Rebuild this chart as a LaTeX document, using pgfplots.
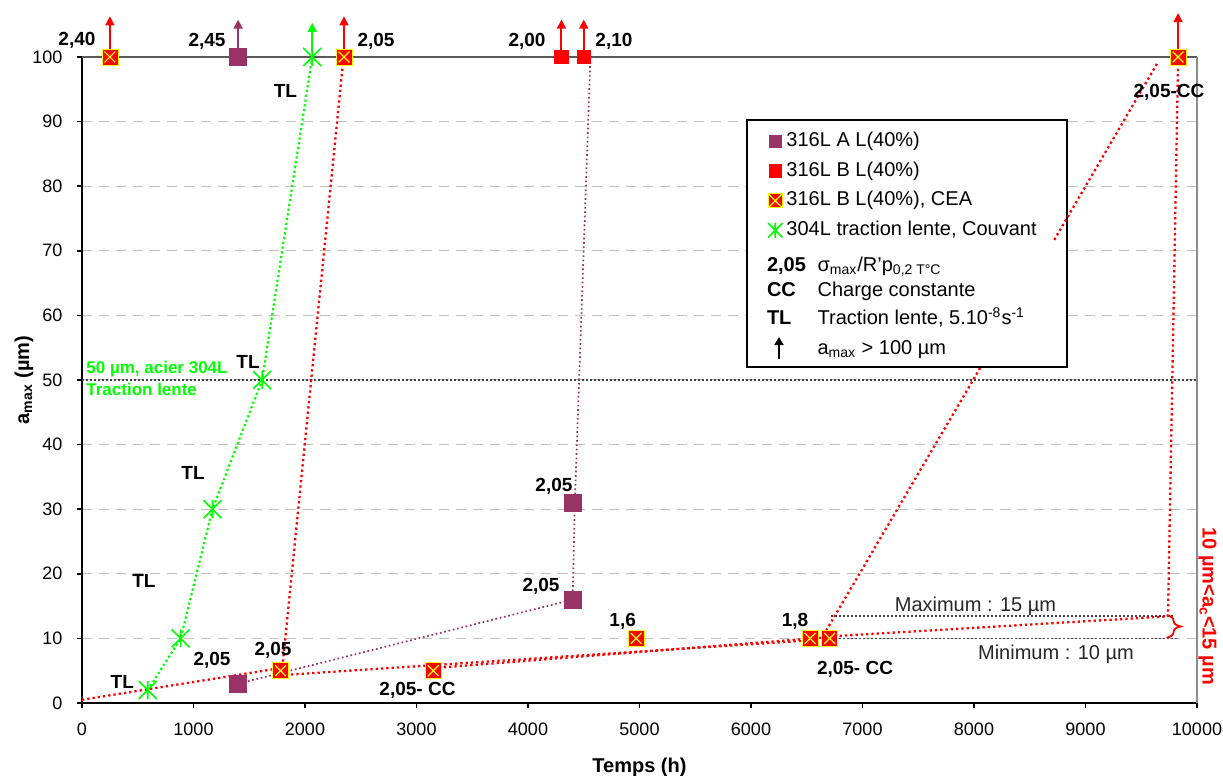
\documentclass[border=0pt]{standalone}
\usepackage{pgfplots}
\pgfplotsset{compat=1.18}
\usepackage{pgfplotstable}
\usepackage{fontspec}
\setmainfont{Liberation Sans}
\usetikzlibrary{arrows.meta,decorations.pathreplacing}
\definecolor{plum}{HTML}{993366}
\definecolor{lgreen}{HTML}{00FF00}
\definecolor{gridgray}{HTML}{C0C0C0}
\definecolor{xyellow}{HTML}{FFFF00}

\pgfdeclareplotmark{xstar}{%
 \pgfpathmoveto{\pgfqpoint{-\pgfplotmarksize}{-\pgfplotmarksize}}%
 \pgfpathlineto{\pgfqpoint{\pgfplotmarksize}{\pgfplotmarksize}}%
 \pgfpathmoveto{\pgfqpoint{-\pgfplotmarksize}{\pgfplotmarksize}}%
 \pgfpathlineto{\pgfqpoint{\pgfplotmarksize}{-\pgfplotmarksize}}%
 \pgfpathmoveto{\pgfqpoint{0pt}{-\pgfplotmarksize}}%
 \pgfpathlineto{\pgfqpoint{0pt}{\pgfplotmarksize}}%
 \pgfusepathqstroke}

% 316L A L(40%)
\pgfplotstableread{
x y
1400 100
1400 3
4400 16
4400 31
}\tabA
% 316L B L(40%)
\pgfplotstableread{
x y
4300 100
4500 100
}\tabB
% 316L B L(40%), CEA
\pgfplotstableread{
x y
250 100
2350 100
1780 5
3150 5
4970 10
6530 10
6705 10
9830 100
}\tabC
% 304L traction lente, Couvant
\pgfplotstableread{
x y
590 2
885 10
1170 30
1615 50
2065 100
}\tabD

\tikzset{
 redline/.style={red, line width=1.15pt, dash pattern=on 1.15pt off 1.5pt},
 lab/.style={font=\fontsize{9.5}{11}\selectfont\bfseries, inner sep=0pt},
}

\begin{document}
\begin{tikzpicture}
\begin{axis}[
 scale only axis, width=557.5pt, height=323pt,
 xmin=0, xmax=10000, ymin=0, ymax=100,
 axis x line*=bottom, axis y line*=left,
 axis line style={-, line width=0.9pt, black},
 xtick={0,1000,...,10000}, ytick={0,10,...,100},
 scaled x ticks=false, scaled y ticks=false,
 tick align=outside, major tick length=2.6pt,
 tick style={black, line width=0.8pt},
 ymajorgrids, grid style={gridgray, line width=0.5pt, dash pattern=on 5pt off 3.5pt},
 clip=false,
 tick label style={font=\fontsize{9}{10.5}\selectfont},
 xticklabel style={yshift=-3.7pt},
 yticklabel style={xshift=-3.7pt},
 /pgf/number format/assume math mode=true,
 /pgf/number format/set thousands separator={},
 xticklabel={\pgfmathprintnumber[fixed,precision=0,set thousands separator={}]{\tick}},
 xlabel={Temps (h)}, ylabel={a\textsubscript{max} (µm)},
 label style={font=\fontsize{10}{12}\selectfont\bfseries},
 xlabel style={at={(axis description cs:0.5,-0.1)}, anchor=center},
 ylabel style={at={(axis description cs:-0.052,0.5)}, anchor=center},
 legend style={at={(axis cs:6146,88.7)}, anchor=north west, draw=none, fill=none,
   inner sep=0pt, outer sep=0pt, row sep=3.3pt, column sep=0.6pt,
   font=\fontsize{10}{12}\selectfont,
   nodes={inner sep=1pt, text height=7.3pt, text depth=2.2pt}},
 legend cell align=left,
]
% frame top / right
\draw[black!65, line width=0.9pt] (rel axis cs:0,1) -- (rel axis cs:1,1);
\draw[black!45, line width=0.6pt] (rel axis cs:1,1) -- (rel axis cs:1,0);

% reference lines
\addplot[forget plot, color=black!75, line width=0.9pt, dash pattern=on 0.9pt off 1.1pt] coordinates {(0,50) (10000,50)};
\addplot[forget plot, color=black!75, line width=0.75pt, dash pattern=on 0.75pt off 1.25pt] coordinates {(6720,13.5) (9800,13.5)};
\addplot[forget plot, color=black!75, line width=0.75pt, dash pattern=on 0.75pt off 1.25pt] coordinates {(6720,10) (9830,10)};

% trend lines
\addplot[forget plot, lgreen, line width=1.1pt, dash pattern=on 1.1pt off 1.3pt] table {\tabD};
\addplot[forget plot, plum, line width=0.85pt, dash pattern=on 0.85pt off 1.35pt] coordinates {(1450,3.2) (4400,16) (4420,31) (4560,100)};
\addplot[forget plot, redline] coordinates {(0,0.5) (1780,5.4)};
\addplot[forget plot, redline] coordinates {(2340,99) (1800,6)};
\addplot[forget plot, redline] coordinates {(1780,4.3) (6530,9.7)};
\addplot[forget plot, redline] coordinates {(3150,5.4) (6700,10.2)};
\addplot[forget plot, redline] coordinates {(6700,10.3) (9728,13.4)};
\addplot[forget plot, redline] coordinates {(6650,10.5) (8060,52)};
\addplot[forget plot, redline] coordinates {(9830,99) (9740,13.6)};

% legend box
\filldraw[fill=white, draw=black, line width=1pt] (axis cs:5964,52) rectangle (axis cs:8834,90.25);
\addplot[forget plot, redline] coordinates {(8720,71.7) (9650,99.2)};

% bracket
\draw[red, line width=0.9pt, decorate, decoration={brace, amplitude=7pt}] (axis cs:9727,13.6) -- (axis cs:9727,10.1);

% markers
\addplot[forget plot, only marks, mark=square*, mark size=4.2pt, color=plum] table {\tabA};
\addplot[forget plot, only marks, mark=square*, mark size=3.4pt, color=red] table {\tabB};
\addplot[forget plot, only marks, mark=square*, mark size=4pt, mark options={fill=red, draw=xyellow, line width=0.3pt}] table {\tabC};
\addplot[forget plot, only marks, mark=x, mark size=3.8pt, mark options={draw=xyellow, line width=0.6pt}] table {\tabC};
\addplot[forget plot, only marks, mark=xstar, mark size=4.5pt, mark options={draw=lgreen, line width=0.8pt}] table {\tabD};

% arrows (a_max > 100 um)
\addplot[forget plot, red, line width=1pt, -{Triangle[length=4.5pt,width=4.4pt]}] coordinates {(250,101.3) (250,106.3)};
\addplot[forget plot, plum, line width=1pt, -{Triangle[length=4.5pt,width=4.4pt]}] coordinates {(1400,101.3) (1400,105.8)};
\addplot[forget plot, lgreen, line width=1pt, -{Triangle[length=4.5pt,width=4.4pt]}] coordinates {(2065,100.8) (2065,105.3)};
\addplot[forget plot, red, line width=1pt, -{Triangle[length=4.5pt,width=4.4pt]}] coordinates {(2350,101.3) (2350,106.3)};
\addplot[forget plot, red, line width=1pt, -{Triangle[length=4.5pt,width=4.4pt]}] coordinates {(4300,101.1) (4300,105.8)};
\addplot[forget plot, red, line width=1pt, -{Triangle[length=4.5pt,width=4.4pt]}] coordinates {(4500,101.1) (4500,105.8)};
\addplot[forget plot, red, line width=1pt, -{Triangle[length=4.5pt,width=4.4pt]}] coordinates {(9830,101.3) (9830,106.8)};

% point labels
\node[lab] at (axis cs:-45,102.6) {2,40};
\node[lab] at (axis cs:1121,102.5) {2,45};
\node[lab] at (axis cs:2637,102.5) {2,05};
\node[lab] at (axis cs:3991,102.5) {2,00};
\node[lab] at (axis cs:4771,102.5) {2,10};
\node[lab] at (axis cs:9749,94.5) {2,05-CC};
\node[lab] at (axis cs:1825,94.7) {TL};
\node[lab] at (axis cs:1489,52.8) {TL};
\node[lab] at (axis cs:996,35.6) {TL};
\node[lab] at (axis cs:556,18.9) {TL};
\node[lab] at (axis cs:361,3.3) {TL};
\node[lab] at (axis cs:4233,33.6) {2,05};
\node[lab] at (axis cs:4117,18.0) {2,05};
\node[lab] at (axis cs:1166,6.65) {2,05};
\node[lab] at (axis cs:1713,8.2) {2,05};
\node[lab] at (axis cs:3009,1.9) {2,05- CC};
\node[lab] at (axis cs:4849,12.6) {1,6};
\node[lab] at (axis cs:6395,12.7) {1,8};
\node[lab] at (axis cs:6933,5.25) {2,05- CC};
\node[font=\fontsize{10}{12}\selectfont, black!85, inner sep=0pt] at (axis cs:8013,14.9) {Maximum : 15 µm};
\node[font=\fontsize{10}{12}\selectfont, black!85, inner sep=0pt] at (axis cs:8735,7.6) {Minimum : 10 µm};
\node[lgreen, font=\fontsize{8.5}{10}\selectfont\bfseries, inner sep=0pt, anchor=west] at (axis cs:36,51.7) {50 µm, acier 304L};
\node[lgreen, font=\fontsize{8.5}{10}\selectfont\bfseries, inner sep=0pt, anchor=west] at (axis cs:36,48.6) {Traction lente};
\node[rotate=-90, red, font=\fontsize{10}{12}\selectfont\bfseries, inner sep=0pt] at (axis cs:10094,15.0) {10 µm<a\textsubscript{c}<15 µm};

% legend, lower rows
\node[anchor=base west, inner sep=0pt, font=\fontsize{10}{12.5}\selectfont] at (axis cs:6140,66.8)
 {\begin{tabular}[t]{@{}p{25.3pt}@{}l@{}}
 \textbf{2,05} & σ\textsubscript{max}/R’p\textsubscript{0,2 T°C}\\[0pt]
 \textbf{CC} & Charge constante\\[1.7pt]
 \textbf{TL} & Traction lente, 5.10\textsuperscript{-8}s\textsuperscript{-1}\\[2.5pt]
  & a\textsubscript{max} > 100 µm
 \end{tabular}};
\draw[black, line width=1pt, -{Triangle[length=4pt,width=4.5pt]}] (axis cs:6251,53.25) -- (axis cs:6251,56.65);

% legend, series rows
\addlegendimage{legend image code/.code={\fill[plum] (-3.1pt,-3.1pt) rectangle (3.1pt,3.1pt);}}
\addlegendentry{316L A L(40\%)}
\addlegendimage{legend image code/.code={\fill[red] (-3.1pt,-3.1pt) rectangle (3.1pt,3.1pt);}}
\addlegendentry{316L B L(40\%)}
\addlegendimage{legend image code/.code={\filldraw[fill=red, draw=xyellow, line width=0.3pt] (-3.5pt,-3.5pt) rectangle (3.5pt,3.5pt); \draw[xyellow, line width=0.6pt] (-3.3pt,-3.3pt) -- (3.3pt,3.3pt) (-3.3pt,3.3pt) -- (3.3pt,-3.3pt);}}
\addlegendentry{316L B L(40\%), CEA}
\addlegendimage{legend image code/.code={\draw[lgreen, line width=0.8pt] (-3.6pt,-3.6pt) -- (3.6pt,3.6pt) (-3.6pt,3.6pt) -- (3.6pt,-3.6pt) (0pt,-3.8pt) -- (0pt,3.8pt);}}
\addlegendentry{304L traction lente, Couvant}
\end{axis}
\pgfresetboundingbox
\path[use as bounding box] (-41pt,-36.5pt) rectangle (570.5pt,351.5pt);
\end{tikzpicture}
\end{document}
